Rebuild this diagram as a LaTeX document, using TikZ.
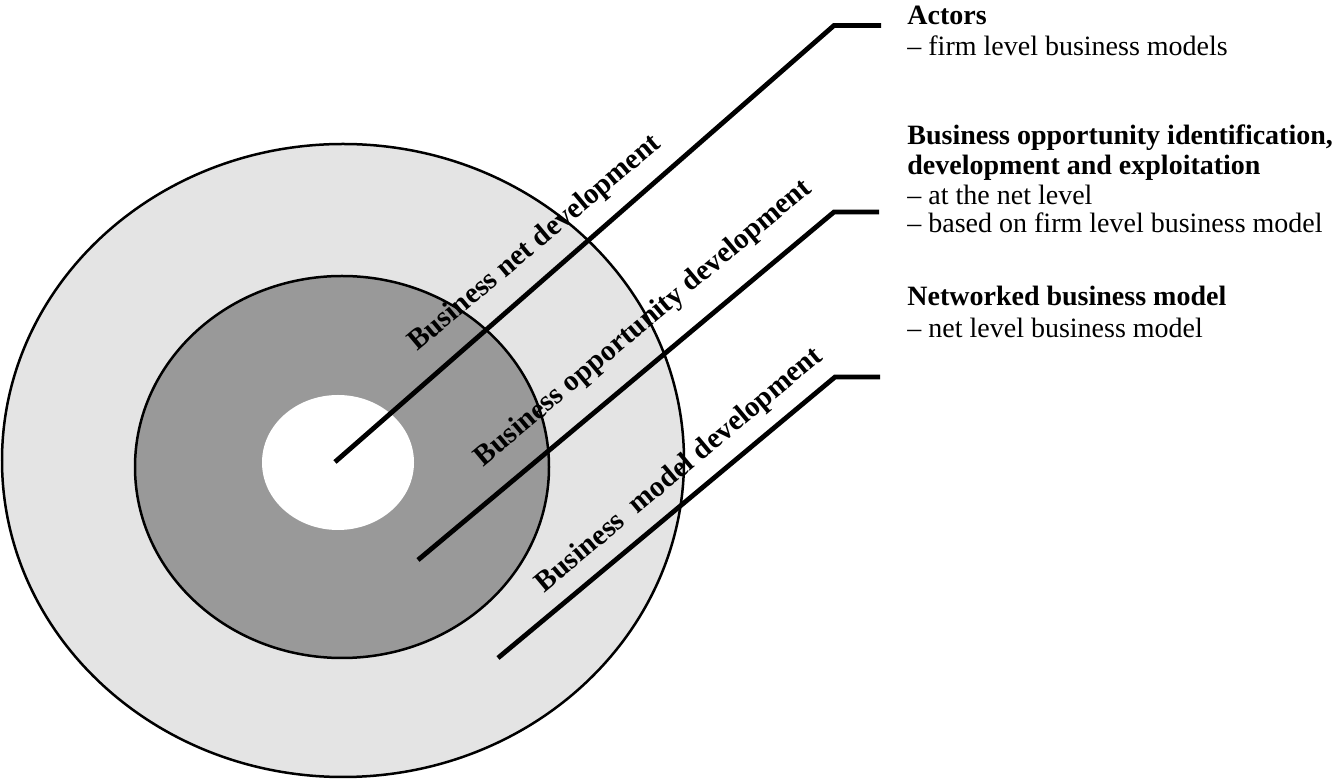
\documentclass[tikz,border=0pt]{standalone}
\usepackage{fontspec}
\setmainfont{Liberation Serif}
\definecolor{outergray}{RGB}{228,228,228}
\definecolor{midgray}{RGB}{153,153,153}
\begin{document}
\begin{tikzpicture}[x=0.5pt,y=-0.5pt,
  lead/.style={line width=2.4pt, line join=miter},
  ring/.style={line width=1.25pt},
  lab/.style={font=\fontsize{14.6}{15}\selectfont\bfseries, rotate=40, inner sep=0pt, anchor=center},
  head/.style={font=\fontsize{14}{14.5}\selectfont\bfseries, anchor=base west, inner sep=0pt},
  sub/.style={font=\fontsize{14}{14.5}\selectfont, anchor=base west, inner sep=0pt}]
\useasboundingbox (0,0) rectangle (1334,779);
% rings
\draw[ring, fill=outergray] (343,460.5) ellipse [x radius=341, y radius=316.5];
\draw[ring, fill=midgray] (342,467) ellipse [x radius=207, y radius=191];
\fill[white] (338,462.5) ellipse [x radius=76, y radius=67.5];
% leader coordinates
\coordinate (s1) at (335,462);
\coordinate (b1) at (834,25.5);
\coordinate (e1) at (881,25.5);
\coordinate (s2) at (418,560);
\coordinate (b2) at (834,212);
\coordinate (e2) at (879,212);
\coordinate (s3) at (498,658);
\coordinate (b3) at (835,377);
\coordinate (e3) at (880,377);
\draw[lead] (s1) -- (b1) -- (e1);
\draw[lead] (s2) -- (b2) -- (e2);
\draw[lead] (s3) -- (b3) -- (e3);
% rotated labels
\node[lab] (l1) at (535.5,243.5) {Business net development};
\node[lab] (l2) at (643.5,323.6) {Business opportunity development};
\node[lab] (l3) at (679.5,470.6) {Business\ \ model development};
% right-hand text
\node[head] (h1) at (907,24.5) {Actors};
\node[sub] (h1a) at (907,55.5) {– firm level business models};
\node[head] (h2) at (907,145) {Business opportunity identification,};
\node[head] (h2b) at (907,174.5) {development and exploitation};
\node[sub] (h2c) at (907,204.5) {– at the net level};
\node[sub] (h2d) at (907,232.5) {– based on firm level business model};
\node[head] (h3) at (907,306) {Networked business model};
\node[sub] (h3a) at (907,337.5) {– net level business model};
\end{tikzpicture}
\end{document}
